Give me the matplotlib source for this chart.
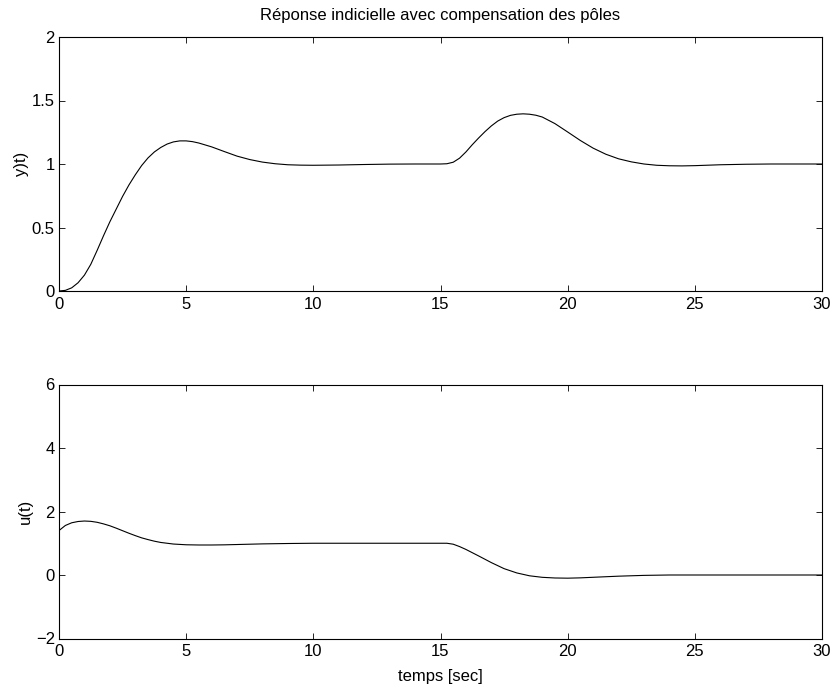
import matplotlib
matplotlib.use("Agg")
import matplotlib.pyplot as plt

plt.rcParams['font.family'] = ['Liberation Sans', 'DejaVu Sans']

title = "Réponse indicielle avec compensation des pôles"
xlabel = "temps [sec]"
ylabel_top = "y)t)"
ylabel_bottom = "u(t)"

t_y = [0, 0.25, 0.5, 0.75, 1.0, 1.25, 1.5, 1.75, 2.0, 2.25, 2.5, 2.75, 3.0, 3.25,
       3.5, 3.75, 4.0, 4.25, 4.5, 4.75, 5.0, 5.25, 5.5, 6.0, 6.5, 7.0, 7.5, 8.0,
       8.5, 9.0, 9.5, 10.0, 11.0, 12.0, 13.0, 14.0, 15.0, 15.25, 15.5, 15.75,
       16.0, 16.25, 16.5, 16.75, 17.0, 17.25, 17.5, 17.75, 18.0, 18.25, 18.5,
       18.75, 19.0, 19.5, 20.0, 20.5, 21.0, 21.5, 22.0, 22.5, 23.0, 23.5, 24.0,
       24.5, 25.0, 26.0, 27.0, 28.0, 30.0]
y_vals = [0, 0.005, 0.025, 0.065, 0.125, 0.21, 0.32, 0.435, 0.545, 0.645, 0.745,
          0.835, 0.915, 0.988, 1.048, 1.095, 1.13, 1.157, 1.174, 1.182, 1.182,
          1.176, 1.165, 1.135, 1.098, 1.062, 1.035, 1.015, 1.002, 0.994, 0.991,
          0.99, 0.992, 0.996, 0.999, 1.0, 1.0, 1.002, 1.014, 1.046, 1.095, 1.152,
          1.205, 1.255, 1.30, 1.338, 1.365, 1.383, 1.392, 1.395, 1.392, 1.384,
          1.37, 1.318, 1.252, 1.185, 1.125, 1.077, 1.041, 1.017, 1.0, 0.99, 0.986,
          0.985, 0.987, 0.994, 0.998, 1.0, 1.0]

t_u = [0, 0.25, 0.5, 0.75, 1.0, 1.25, 1.5, 1.75, 2.0, 2.25, 2.5, 2.75, 3.0, 3.25,
       3.5, 3.75, 4.0, 4.5, 5.0, 5.5, 6.0, 6.5, 7.0, 8.0, 9.0, 10.0, 15.0, 15.25,
       15.5, 15.75, 16.0, 16.5, 17.0, 17.5, 18.0, 18.5, 19.0, 19.5, 20.0, 20.5,
       21.0, 22.0, 23.0, 24.0, 30.0]
u_vals = [1.40, 1.56, 1.645, 1.685, 1.70, 1.69, 1.66, 1.61, 1.55, 1.475, 1.395,
          1.315, 1.24, 1.17, 1.115, 1.065, 1.025, 0.975, 0.952, 0.945, 0.945, 0.95,
          0.96, 0.98, 0.992, 1.0, 1.0, 1.0, 0.97, 0.895, 0.805, 0.60, 0.39, 0.20,
          0.065, -0.025, -0.073, -0.094, -0.10, -0.09, -0.072, -0.037, -0.012,
          0.0, 0.0]

x_ticks = [0, 5, 10, 15, 20, 25, 30]
y_ticks_top = [0, 0.5, 1, 1.5, 2]
y_ticks_bottom = [-2, 0, 2, 4, 6]

fig = plt.figure(figsize=(8.32, 6.84), dpi=100)
ax1 = fig.add_axes([59/832, 1 - 291/684, 763/832, 254/684])
ax2 = fig.add_axes([59/832, 1 - 638.5/684, 763/832, 254/684])

for ax in (ax1, ax2):
    ax.set_xlim(0, 30)
    ax.set_xticks(x_ticks)
    ax.tick_params(direction='in', top=True, right=True, length=4.3, width=0.6,
                   labelsize=12, pad=3)
    ax.tick_params(axis='x', pad=4)
    for s in ax.spines.values():
        s.set_linewidth(0.8)

ax1.plot(t_y, y_vals, color='black', linewidth=0.8)
ax1.set_ylim(0, 2)
ax1.set_yticks(y_ticks_top)
ax1.set_yticklabels(['0', '0.5', '1', '1.5', '2'])
ax1.set_ylabel(ylabel_top, fontsize=12, labelpad=2)
ax1.set_title(title, fontsize=12, pad=12)

ax2.plot(t_u, u_vals, color='black', linewidth=0.8)
ax2.set_ylim(-2, 6)
ax2.set_yticks(y_ticks_bottom)
ax2.set_ylabel(ylabel_bottom, fontsize=12, labelpad=2)
ax2.set_xlabel(xlabel, fontsize=12, labelpad=7)

fig.savefig("out.png", dpi=100)
